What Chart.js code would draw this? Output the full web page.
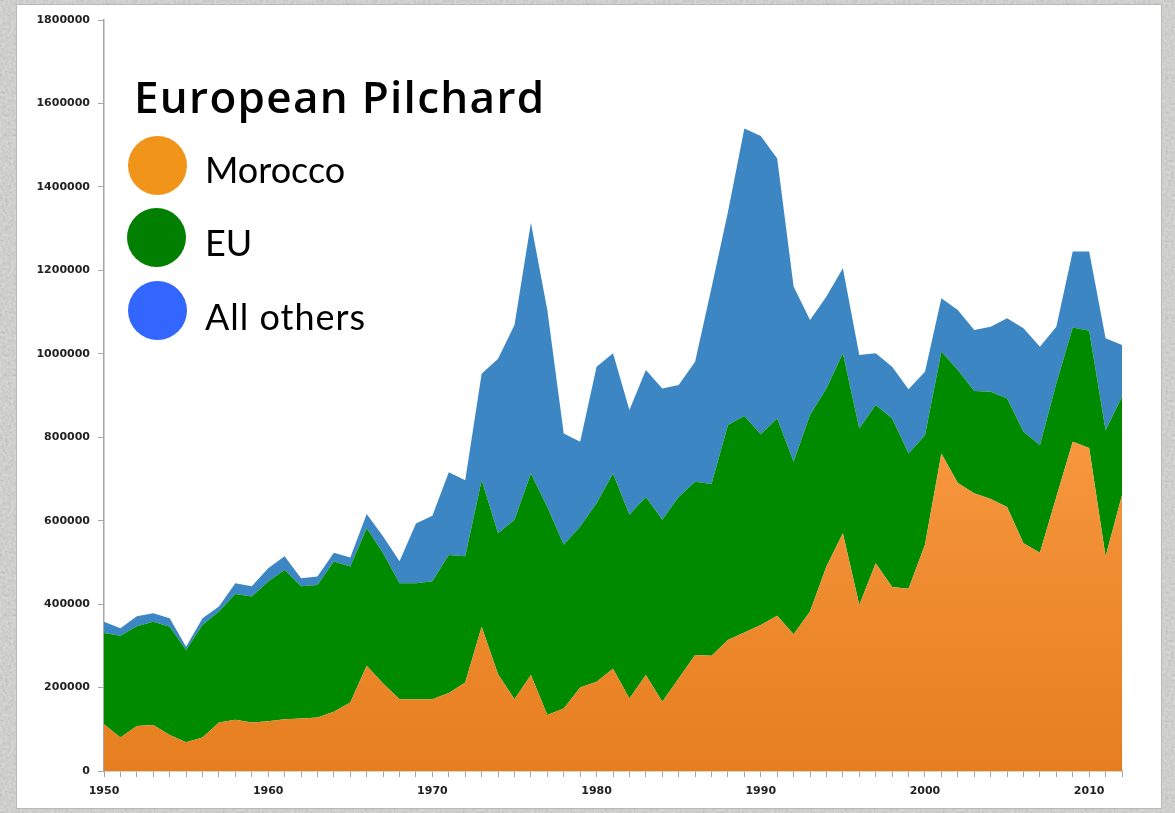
<!DOCTYPE html>
<html>
<head>
<meta charset="utf-8">
<script src="https://cdn.jsdelivr.net/npm/chart.js@4"></script>
<style>
  html, body { margin: 0; padding: 0; }
  body {
    width: 1175px; height: 813px; position: relative; overflow: hidden;
    background-color: #d9d9d6;
    background-image: url("data:image/svg+xml;utf8,<svg xmlns='http://www.w3.org/2000/svg' width='240' height='240'><filter id='n'><feTurbulence type='fractalNoise' baseFrequency='0.35' numOctaves='4' seed='3'/><feColorMatrix values='0.33 0.33 0.33 0 0 0.33 0.33 0.33 0 0 0.33 0.33 0.33 0 0 0 0 0 0 1'/></filter><rect width='240' height='240' filter='url(%23n)' opacity='0.35'/></svg>");
  }
  .panel {
    position: absolute; left: 16px; top: 4px; width: 1146px; height: 805px;
    background: #fff; border: 1px solid #b9b9b9; box-sizing: border-box;
  }
  #chart { position: absolute; left: 0; top: 0; }
  .title {
    position: absolute; left: 134px; top: 74px; letter-spacing: 1.3px;
    font: 600 44px/44px "Open Sans", sans-serif; color: #000; white-space: nowrap;
  }
  .dot { position: absolute; width: 59px; height: 59px; border-radius: 50%; }
  .lbl {
    position: absolute; left: 205px;
    font: 36px/36px Lato, sans-serif; color: #000; white-space: nowrap;
  }
</style>
</head>
<body>
<div class="panel"></div>
<canvas id="chart" width="1175" height="813"></canvas>

<div class="title">European Pilchard</div>
<div class="dot" style="left:128px; top:136px; background:#f0951a"></div>
<div class="lbl" style="top:151px">Morocco</div>
<div class="dot" style="left:127px; top:208px; background:#007f00"></div>
<div class="lbl" style="top:224px">EU</div>
<div class="dot" style="left:128px; top:281px; background:#3366ff"></div>
<div class="lbl" style="top:298px; letter-spacing:1px">All others</div>

<script>
// catches in tonnes
const years = [
  1950, 1951, 1952, 1953, 1954, 1955, 1956, 1957, 1958, 1959,
  1960, 1961, 1962, 1963, 1964, 1965, 1966, 1967, 1968, 1969,
  1970, 1971, 1972, 1973, 1974, 1975, 1976, 1977, 1978, 1979,
  1980, 1981, 1982, 1983, 1984, 1985, 1986, 1987, 1988, 1989,
  1990, 1991, 1992, 1993, 1994, 1995, 1996, 1997, 1998, 1999,
  2000, 2001, 2002, 2003, 2004, 2005, 2006, 2007, 2008, 2009,
  2010, 2011, 2012
];

const morocco = [
  112000, 80000, 108000, 110000, 86000, 69000, 80000, 116000, 123000, 116000,
  119000, 124000, 126000, 128000, 142000, 164000, 252000, 210000, 172000, 172000,
  172000, 187000, 212000, 346000, 232000, 172000, 230000, 134000, 150000, 200000,
  214000, 245000, 174000, 230000, 166000, 222000, 278000, 276000, 314000, 332000,
  350000, 372000, 328000, 382000, 490000, 570000, 398000, 498000, 441000, 437000,
  542000, 761000, 690000, 666000, 652000, 633000, 546000, 523000, 657000, 789000,
  774000, 514000, 661000
];

const eu = [
  219000, 244000, 239000, 248000, 260000, 221000, 270000, 266000, 301000, 302000,
  335000, 358000, 317000, 318000, 360000, 326000, 330000, 312000, 278000, 278000,
  283000, 331000, 303000, 351000, 338000, 430000, 483000, 499000, 392000, 386000,
  428000, 468000, 440000, 427000, 436000, 435000, 415000, 412000, 515000, 519000,
  457000, 473000, 413000, 471000, 427000, 431000, 423000, 379000, 404000, 324000,
  263000, 244000, 271000, 245000, 257000, 260000, 267000, 258000, 272000, 274000,
  281000, 303000, 236000
];

const others = [
  27000, 18000, 24000, 20000, 20000, 8000, 16000, 12000, 26000, 25000,
  32000, 33000, 19000, 20000, 21000, 22000, 34000, 40000, 53000, 143000,
  157000, 198000, 182000, 255000, 418000, 467000, 601000, 472000, 267000, 203000,
  327000, 288000, 251000, 304000, 315000, 268000, 288000, 470000, 511000, 689000,
  715000, 623000, 420000, 228000, 220000, 204000, 176000, 124000, 124000, 154000,
  152000, 128000, 144000, 146000, 156000, 192000, 248000, 236000, 136000, 182000,
  190000, 220000, 124000
];

const yMax = 1800000;
const yStep = 200000;

const axisColor = '#a6a6a6';
const tickFont = { family: 'DejaVu Sans', size: 11, weight: 'bold' };

// orange fades from a lighter top to a deeper bottom
function orangeFill(ctx) {
  const area = ctx.chart.chartArea;
  if (!area) return '#f08a2c';
  const g = ctx.chart.ctx.createLinearGradient(0, area.top, 0, area.bottom);
  g.addColorStop(0, '#fba157');
  g.addColorStop(0.55, '#f7973f');
  g.addColorStop(1, '#e67e1e');
  return g;
}

const area = (label, data, fill, color) => ({
  label, data, fill,
  backgroundColor: color,
  borderWidth: 0,
  pointRadius: 0,
  tension: 0,
});

new Chart(document.getElementById('chart'), {
  type: 'line',
  data: {
    labels: years,
    datasets: [
      area('Morocco', morocco, 'origin', orangeFill),
      area('EU', eu, '-1', '#008a00'),
      area('All others', others, '-1', '#3d86c4'),
    ],
  },
  options: {
    responsive: false,
    animation: false,
    events: [],
    layout: { padding: { left: 0, right: 53, top: 20, bottom: 0 } },
    plugins: { legend: { display: false }, tooltip: { enabled: false } },
    scales: {
      x: {
        offset: false,
        grid: { drawOnChartArea: false, tickLength: 6, color: axisColor, offset: false },
        border: { color: axisColor, width: 1.5 },
        ticks: {
          autoSkip: false, maxRotation: 0, padding: 8,
          font: tickFont, color: '#222',
          callback: (v, i) => (years[i] % 10 === 0 ? String(years[i]) : ''),
        },
        afterFit: (s) => { s.height = 42; },
      },
      y: {
        stacked: true,
        min: 0, max: yMax,
        grid: { drawOnChartArea: false, tickLength: 6, color: axisColor },
        border: { color: axisColor, width: 1.5 },
        ticks: {
          stepSize: yStep, padding: 8,
          font: tickFont, color: '#222',
          callback: (v) => String(v),
        },
        afterFit: (s) => { s.width = 104; },
      },
    },
  },
});
</script>
</body>
</html>
